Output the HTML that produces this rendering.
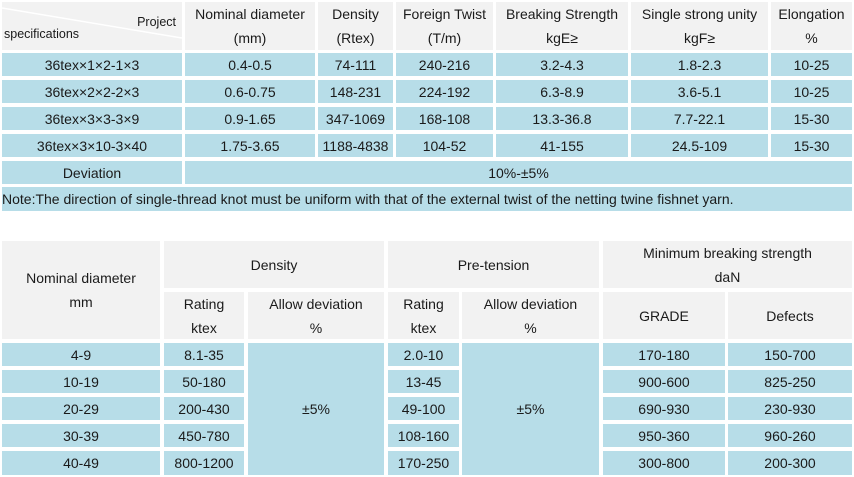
<!DOCTYPE html>
<html><head><meta charset="utf-8"><style>
body{margin:0;width:854px;height:477px;background:#fff;position:relative;overflow:hidden;font-family:"Segoe UI","Liberation Sans","DejaVu Sans",sans-serif;font-size:14px;color:#1a1a1a}
.c{position:absolute;display:flex;align-items:center;justify-content:center;text-align:center;line-height:24px;box-sizing:border-box;white-space:nowrap}
.h{background:#f2f2f2}.d{background:#b7dde8}
</style></head><body>
<div id="root"></div>
<script>
// [x0,x1,y0,y1,cls,text,name]
const cells1 = [
[2,182,2,50,'h','','corner-header'],
[185,315,2,50,'h','Nominal diameter<br>(mm)','nominal-diameter-header'],
[318,393,2,50,'h','Density<br>(Rtex)','density-header'],
[396,493,2,50,'h','Foreign Twist<br>(T/m)','foreign-twist-header'],
[496,628,2,50,'h','Breaking Strength<br>kgE≥','breaking-strength-header'],
[631,768,2,50,'h','Single strong unity<br>kgF≥','single-strong-unity-header'],
[771,852,2,50,'h','Elongation<br>%','elongation-header']
];
const rows1 = [
['36tex×1×2-1×3','0.4-0.5','74-111','240-216','3.2-4.3','1.8-2.3','10-25'],
['36tex×2×2-2×3','0.6-0.75','148-231','224-192','6.3-8.9','3.6-5.1','10-25'],
['36tex×3×3-3×9','0.9-1.65','347-1069','168-108','13.3-36.8','7.7-22.1','15-30'],
['36tex×3×10-3×40','1.75-3.65','1188-4838','104-52','41-155','24.5-109','15-30']
];
const xs1=[[2,182],[185,315],[318,393],[396,493],[496,628],[631,768],[771,852]];
const ys1=[[53,76],[80,103],[107,130],[134,157]];
rows1.forEach((r,i)=>r.forEach((t,j)=>cells1.push([xs1[j][0],xs1[j][1],ys1[i][0],ys1[i][1],'d',t,'table1-cell'])));
cells1.push([2,182,161,184,'d','Deviation','deviation-label']);
cells1.push([185,852,161,184,'d','10%-±5%','deviation-value']);
const xs2=[[2,160],[164,244],[248,384],[388,459],[462,599],[603,725],[728,852]];
const ys2=[[343,366],[370,393],[397,420],[424,447],[451,475]];
const cells2=[
[2,160,241,339,'h','Nominal diameter<br>mm','nominal-diameter-header-2'],
[164,384,241,288,'h','Density','density-group-header'],
[388,599,241,288,'h','Pre-tension','pre-tension-group-header'],
[603,852,241,288,'h','Minimum breaking strength<br>daN','min-breaking-group-header'],
[164,244,292,339,'h','Rating<br>ktex','density-rating-header'],
[248,384,292,339,'h','Allow deviation<br>%','density-deviation-header'],
[388,459,292,339,'h','Rating<br>ktex','pretension-rating-header'],
[462,599,292,339,'h','Allow deviation<br>%','pretension-deviation-header'],
[603,725,292,339,'h','GRADE','grade-header'],
[728,852,292,339,'h','Defects','defects-header'],
[248,384,343,475,'d','±5%','density-deviation-value'],
[462,599,343,475,'d','±5%','pretension-deviation-value']
];
const rows2=[
['4-9','8.1-35','2.0-10','170-180','150-700'],
['10-19','50-180','13-45','900-600','825-250'],
['20-29','200-430','49-100','690-930','230-930'],
['30-39','450-780','108-160','950-360','960-260'],
['40-49','800-1200','170-250','300-800','200-300']
];
const colIdx=[0,1,3,5,6];
rows2.forEach((r,i)=>r.forEach((t,k)=>{const j=colIdx[k];cells2.push([xs2[j][0],xs2[j][1],ys2[i][0],ys2[i][1],'d',t,'table2-cell']);}));
const root=document.getElementById('root');
function add(c){
  const el=document.createElement('div');
  el.className='c '+c[4];
  el.style.left=c[0]+'px';el.style.width=(c[1]-c[0])+'px';
  el.style.top=c[2]+'px';el.style.height=(c[3]-c[2])+'px';
  el.innerHTML=c[5];
  
  
  root.appendChild(el);
  return el;
}
cells1.forEach(add);
cells2.forEach(add);
// corner header content
const corner=root.children[0];
corner.innerHTML='<svg width="180" height="48" style="position:absolute;left:0;top:0"><line x1="0" y1="6" x2="180" y2="36" stroke="#fff" stroke-width="1.5"/></svg><span style="position:absolute;right:6px;top:8px;font-size:12.5px">Project</span><span style="position:absolute;left:2px;top:20px;font-size:12.5px">specifications</span>';
// note row
const note=add([2,852,187,211,'d','','note-row']);
note.style.justifyContent='flex-start';
note.style.fontSize='14px';
note.textContent='Note:The direction of single-thread knot must be uniform with that of the external twist of the netting twine fishnet yarn.';
</script>
</body></html>
